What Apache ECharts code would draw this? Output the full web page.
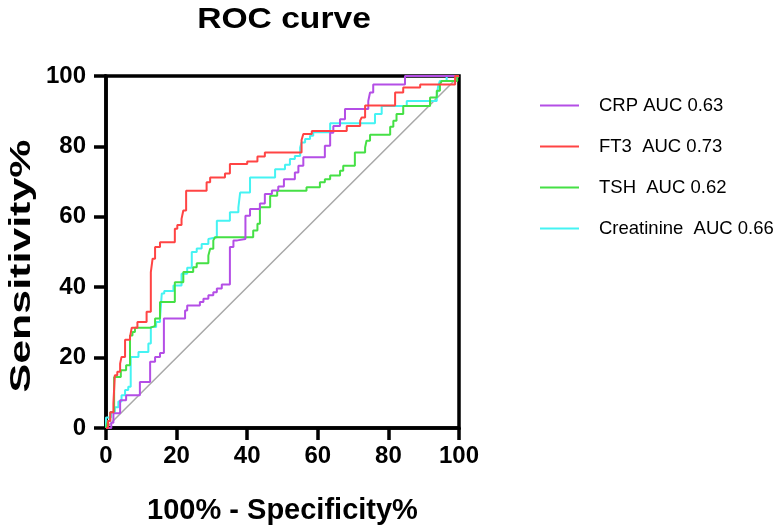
<!DOCTYPE html>
<html>
<head>
<meta charset="utf-8">
<script src="https://cdn.jsdelivr.net/npm/echarts@6/dist/echarts.min.js"></script>
<style>
html,body{margin:0;padding:0;background:#fff;}
#c{width:779px;height:530px;}
</style>
</head>
<body>
<div id="c"></div>
<script>
// Tick labels
const ticks = [0, 20, 40, 60, 80, 100];

// Series names
const names = ['CRP AUC 0.63', 'FT3  AUC 0.73', 'TSH  AUC 0.62', 'Creatinine  AUC 0.66'];

// CRP: x (100% - Specificity%) where the curve rises, y (Sensitivity%) after the rise
const crpX = [0,1.5,2.1,4.0,5.7,9.6,12.5,13.9,15.3,16.4,22.4,23.0,26.6,27.6,29.0,30.4,31.4,32.8,35.1,36.1,37.2,39.5,40.8,43.6,45.0,47.0,48.8,50.4,53.5,54.5,55.9,62.0,63.5,64.4,66.3,67.7,74.3,74.8,75.7,84.7,100];
const crpY = [0,1.5,4.2,7.9,9.3,13.1,18.8,20.2,21.3,31.1,33.4,34.8,35.8,36.7,37.7,38.6,39.6,40.8,51.4,53.3,53.7,60.3,62.2,63.8,66.5,67.5,68.6,70.7,72.6,74.5,76.9,80.2,83.9,85.8,87.7,90.6,92.9,95.3,97.6,100,100];

// FT3
const ft3X = [0,0.6,1.2,2.1,2.5,3.2,4.0,4.4,5.4,6.8,7.3,8.9,11.5,12.7,13.2,13.9,15.3,19.5,20.2,21.4,21.9,22.7,28.5,29.5,33.7,35.1,40.0,42.9,45.0,55.4,55.9,58.3,68.2,72.0,72.4,73.4,81.9,84.2,89.0,98.9,100];
const ft3Y = [0,2.0,4.5,7.0,15.0,16.0,18.3,20.2,25.1,25.9,28.5,30.1,33.0,44.3,48.1,51.4,52.8,56.6,57.7,59.4,61.8,67.4,69.8,71.2,72.3,75.0,75.7,77.1,78.3,81.8,83.5,84.4,85.8,87.3,88.2,91.6,95.3,96.7,97.6,100,100];

// TSH
const tshX = [0,0.5,1.2,2.3,4.2,5.7,6.8,7.5,8.2,12.7,13.9,15.3,19.5,21.9,24.7,25.7,29.0,29.5,30.4,30.9,41.7,42.9,43.6,46.5,48.5,56.8,60.6,62.0,63.5,66.3,67.2,70.5,73.4,73.8,74.8,80.5,81.4,82.3,84.2,91.8,93.7,94.6,95.1,99.5,100];
const tshY = [0,2,4.5,14.5,16.4,17.8,26.3,27.3,28.5,29.0,31.1,35.8,41.4,44.3,45.7,46.8,49.0,50.9,53.3,54.2,56.1,58.0,62.7,66.0,67.4,68.4,69.8,70.7,71.7,73.1,74.5,78.3,79.7,81.6,83.3,85.6,87.3,89.2,91.5,93.9,95.8,97.6,98.6,100,100];

// Creatinine
const creX = [0,0,1.4,2.5,3.5,4.4,5.4,6.3,7.0,9.2,12.0,12.7,14.2,15.3,15.8,16.5,19.1,21.4,23.0,24.3,25.7,27.1,29.0,29.5,31.4,35.1,37.5,38.0,40.8,47.9,50.7,52.1,53.5,55.0,55.4,56.4,57.8,58.7,63.5,76.2,78.1,85.2,93.7,94.1,94.6,96.5,100];
const creY = [0,3.0,4.5,5.9,7.5,9.3,10.8,11.7,20.2,21.6,24.0,28.7,30.1,31.1,38.2,38.9,40.5,43.8,45.5,50.0,51.0,52.3,53.7,54.2,58.9,61.3,62.7,66.9,71.2,73.5,74.8,76.4,77.3,79.7,81.1,82.1,83.0,84.0,86.6,89.2,91.5,92.9,94.3,97.2,98.6,100,100];

// Reference diagonal
const diagX = [0, 100];
const diagY = [0, 100];

const titleText = 'ROC curve';
const yName = 'Sensitivity%';
const xName = '100% - Specificity%';

const colors = ['#b44ee6', '#ff4444', '#45e045', '#45f3f3'];
const zip = (xs, ys) => xs.map((x, i) => [x, ys[i]]);

const FONT = '"Liberation Sans", Arial, Helvetica, sans-serif';
const chart = echarts.init(document.getElementById('c'), null, {renderer: 'canvas'});

function curve(name, xs, ys, color) {
  return {
    name: name, type: 'line', step: 'end', symbol: 'none',
    data: zip(xs, ys), color: color,
    lineStyle: {color: color, width: 2}, z: 3, animation: false
  };
}

chart.setOption({
  animation: false,
  backgroundColor: '#fff',
  graphic: [
    {
      type: 'text', x: 284, y: 20, scaleX: 1.12, scaleY: 1,
      style: {text: titleText, font: 'bold 30px ' + FONT, fill: '#000',
        textAlign: 'center', textVerticalAlign: 'middle'}
    },
    {
      type: 'text', x: 21.5, y: 266, rotation: Math.PI / 2, scaleX: 1.48, scaleY: 1,
      style: {text: yName, font: 'bold 29px ' + FONT, fill: '#000',
        textAlign: 'center', textVerticalAlign: 'middle'}
    }
  ],
  legend: {
    orient: 'vertical', left: 535, top: 91,
    icon: 'rect', itemWidth: 39, itemHeight: 2, itemGap: 22,
    data: names,
    textStyle: {fontFamily: FONT, fontSize: 18.5, color: '#000', padding: [0, 0, 0, 15]}
  },
  grid: {
    left: 106, top: 76, right: 320, bottom: 102,
    show: true, borderColor: '#000', borderWidth: 3.5, containLabel: false
  },
  xAxis: {
    type: 'value', min: 0, max: 100, interval: 20,
    name: xName, nameLocation: 'middle', nameGap: 68,
    nameTextStyle: {fontFamily: FONT, fontWeight: 'bold', fontSize: 29, color: '#000'},
    axisLine: {show: true, lineStyle: {color: '#000', width: 3.5}},
    axisTick: {show: true, length: 12, lineStyle: {color: '#000', width: 3.5}},
    axisLabel: {fontFamily: FONT, fontWeight: 'bold', fontSize: 24, color: '#000', margin: 16,
      formatter: v => ticks.indexOf(v) >= 0 ? String(v) : ''},
    splitLine: {show: false}
  },
  yAxis: {
    type: 'value', min: 0, max: 100, interval: 20,
    axisLine: {show: true, lineStyle: {color: '#000', width: 3.5}},
    axisTick: {show: true, length: 12, lineStyle: {color: '#000', width: 3.5}},
    axisLabel: {fontFamily: FONT, fontWeight: 'bold', fontSize: 24, color: '#000', margin: 20,
      formatter: v => ticks.indexOf(v) >= 0 ? String(v) : ''},
    splitLine: {show: false}
  },
  series: [
    {
      name: 'diag', type: 'line', symbol: 'none', data: zip(diagX, diagY),
      lineStyle: {color: '#a8a8a8', width: 1.5}, z: 2, silent: true
    },
    curve(names[3], creX, creY, colors[3]),
    curve(names[2], tshX, tshY, colors[2]),
    curve(names[0], crpX, crpY, colors[0]),
    curve(names[1], ft3X, ft3Y, colors[1])
  ]
});
</script>
</body>
</html>
